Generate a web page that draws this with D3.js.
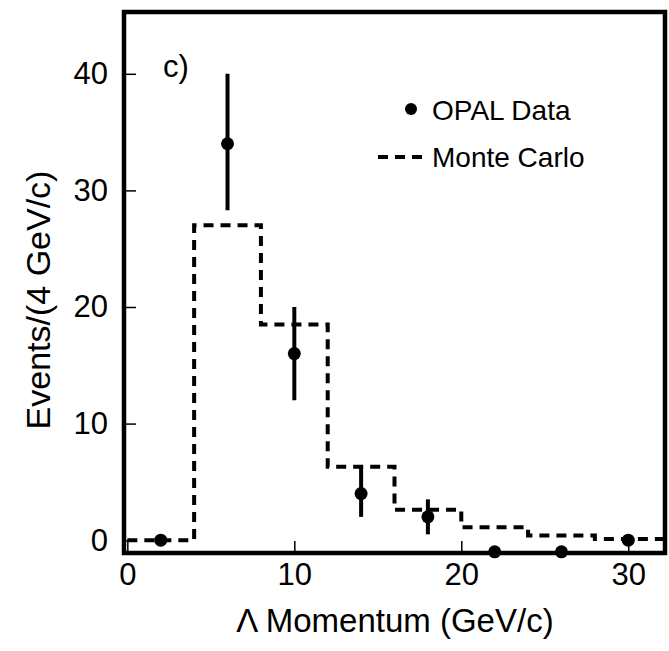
<!DOCTYPE html>
<html><head><meta charset="utf-8">
<script src="https://cdn.jsdelivr.net/npm/d3@7"></script>
<style>body{margin:0;background:#fff;font-family:"Liberation Sans",Arial,sans-serif}</style>
</head><body><svg id="c" width="669" height="651"></svg>
<script>
// Lambda momentum spectrum
var dataX = [2, 6, 10, 14, 18, 22, 26, 30];
var dataY = [0, 34, 16, 4, 2, -1, -1, 0];
var errLo = [0, 28.3, 12, 2, 0.5, 0, 0, 0];
var errHi = [0, 40, 20, 6.3, 3.5, 0, 0, 0];
var mcEdges = [0, 4, 8, 12, 16, 20, 24, 28, 32.2];
var mcVals = [0, 27, 18.5, 6.3, 2.6, 1.1, 0.4, 0.1];
var xTicks = [0, 10, 20, 30];
var yTicks = [0, 10, 20, 30, 40];

var svg = d3.select("#c");
var L = 124, R = 665, T = 12, B = 553;
var x = d3.scaleLinear().domain([-0.2, 32.2]).range([L, R]);
var y = d3.scaleLinear().domain([-1.1, 45.3]).range([B, T]);

svg.append("g").attr("transform", "translate(0," + B + ")")
  .call(d3.axisBottom(x).tickValues(xTicks).tickSize(-12).tickSizeOuter(0).tickPadding(10))
  .call(function(g){ g.select(".domain").remove(); g.selectAll("line").attr("stroke-width",1.5);
    g.selectAll("text").attr("font-size",31).attr("fill","#000"); });
svg.append("g").attr("transform", "translate(" + L + ",0)")
  .call(d3.axisLeft(y).tickValues(yTicks).tickSize(-12).tickSizeOuter(0).tickPadding(16))
  .call(function(g){ g.select(".domain").remove(); g.selectAll("line").attr("stroke-width",1.5);
    g.selectAll("text").attr("font-size",31).attr("fill","#000"); });

// Monte Carlo histogram
var pts = [];
mcVals.forEach(function(v, i){ pts.push([mcEdges[i], v]); pts.push([mcEdges[i+1], v]); });
svg.append("path").attr("d", d3.line().x(function(d){return x(d[0]);}).y(function(d){return y(d[1]);})(pts))
  .attr("fill","none").attr("stroke","#000").attr("stroke-width",4).attr("stroke-dasharray","10,7");

// error bars and points
dataX.forEach(function(d, i){
  if (errHi[i] > errLo[i]) svg.append("line").attr("x1",x(d)).attr("x2",x(d))
    .attr("y1",y(errLo[i])).attr("y2",y(errHi[i])).attr("stroke","#000").attr("stroke-width",4);
  svg.append("circle").attr("cx",x(d)).attr("cy",y(dataY[i])).attr("r",6.5).attr("fill","#000");
});

svg.append("rect").attr("x",L).attr("y",T).attr("width",R-L).attr("height",B-T)
  .attr("fill","none").attr("stroke","#000").attr("stroke-width",4.5);

svg.append("text").attr("x",163).attr("y",77).attr("font-size",31).text("c)");
svg.append("circle").attr("cx",411).attr("cy",109).attr("r",6).attr("fill","#000");
svg.append("text").attr("x",432).attr("y",120).attr("font-size",28).text("OPAL Data");
svg.append("line").attr("x1",378).attr("x2",428).attr("y1",157).attr("y2",157)
  .attr("stroke","#000").attr("stroke-width",4).attr("stroke-dasharray","10,7");
svg.append("text").attr("x",432).attr("y",167).attr("font-size",28).text("Monte Carlo");

svg.append("text").attr("x",395).attr("y",632).attr("text-anchor","middle").attr("font-size",33).text("Λ Momentum (GeV/c)");
svg.append("text").attr("transform","translate(50,300) rotate(-90)").attr("text-anchor","middle")
  .attr("font-size",34).text("Events/(4 GeV/c)");
</script></body></html>
